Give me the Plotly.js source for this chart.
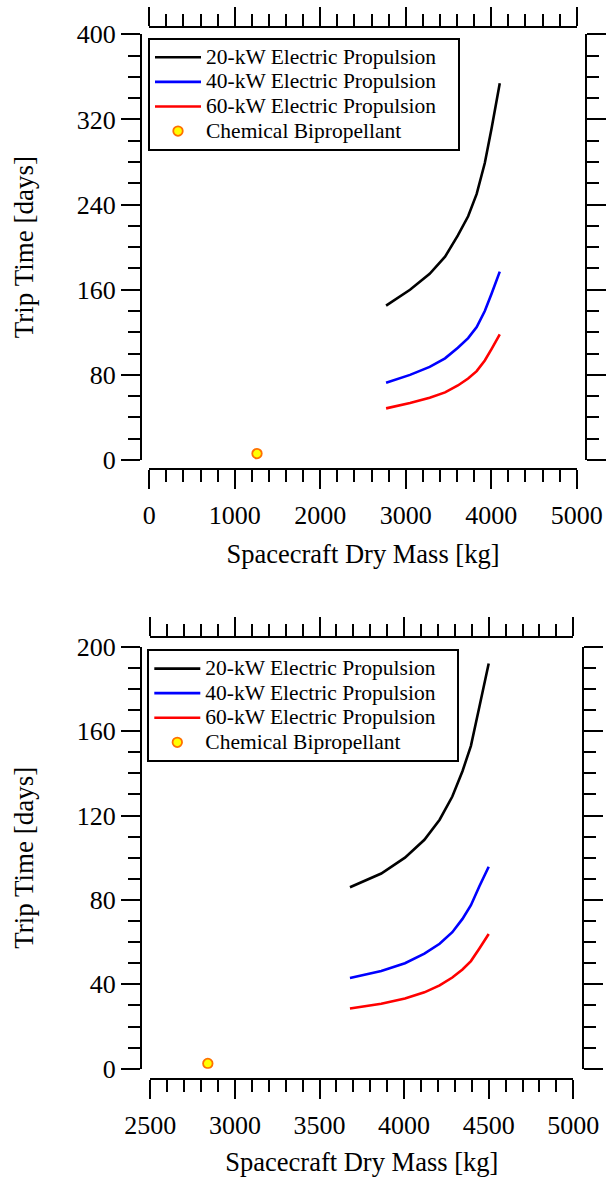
<!DOCTYPE html>
<html>
<head>
<meta charset="utf-8">
<script src="https://cdn.plot.ly/plotly-3.0.1.min.js"></script>
<style>
html,body{margin:0;padding:0;background:#fff;}
#chart{width:611px;height:1177px;}
</style>
</head>
<body>
<div id="chart"></div>
<script>
// ---------- data ----------
const seriesNames = ["20-kW Electric Propulsion", "40-kW Electric Propulsion", "60-kW Electric Propulsion", "Chemical Bipropellant"];

// top panel
const massTop   = [2770, 3050, 3280, 3460, 3610, 3730, 3830, 3925, 4005, 4100];
const ep20Top   = [145, 160, 175, 191, 211, 229, 250, 279, 312, 354];
const ep40Top   = [72.5, 80, 87.5, 95.5, 105.5, 114.5, 125, 140, 156.5, 177];
const ep60Top   = [48.5, 53.5, 58.5, 63.5, 70, 76.5, 83.5, 93.5, 104.5, 118];
const chemMassTop = [1260];
const chemTimeTop = [6];

// bottom panel
const massBot   = [3680, 3865, 4005, 4120, 4210, 4285, 4345, 4395, 4445, 4500];
const ep20Bot   = [86, 92.5, 100, 108.5, 118, 129, 141, 153, 171.5, 192];
const ep40Bot   = [43, 46.3, 50, 54.5, 59.2, 64.7, 71, 77.5, 86.5, 95.7];
const ep60Bot   = [28.5, 30.8, 33.3, 36.2, 39.5, 43.2, 47, 51, 57, 63.8];
const chemMassBot = [2840];
const chemTimeBot = [2.5];

const xTitle = "Spacecraft Dry Mass [kg]";
const yTitle = "Trip Time [days]";

// ---------- styling ----------
const W = 611, H = 1177;
const FONT = "Liberation Serif";
const colors = ["#000000", "#0000ff", "#ff0000"];
const fx = px => px / W;
const fy = py => 1 - py / H;
// legend text drawn at 21.5px while the legend row pitch is set by the smaller legend font
const legName = (s, pad) => '<span style="font-size:21.5px">' + s + (pad ? '&nbsp;&nbsp;&nbsp;' : '') + '</span>';

function lineTrace(x, y, i, xa, ya, leg) {
  return {type: "scatter", mode: "lines", x: x, y: y, name: legName(seriesNames[i], i === 0),
          line: {color: colors[i], width: 2.6}, xaxis: xa, yaxis: ya, legend: leg};
}
function chemTrace(x, y, xa, ya, leg) {
  return {type: "scatter", mode: "markers", x: x, y: y, name: legName(seriesNames[3], false),
          marker: {color: "#ffff00", size: 9.5, line: {color: "#ff7000", width: 1.8}},
          xaxis: xa, yaxis: ya, legend: leg};
}
function dummy(xa, ya) {
  return {type: "scatter", mode: "markers", x: [], y: [], xaxis: xa, yaxis: ya,
          showlegend: false, hoverinfo: "skip"};
}

const data = [
  lineTrace(massTop, ep20Top, 0, "x", "y", "legend"),
  lineTrace(massTop, ep40Top, 1, "x", "y", "legend"),
  lineTrace(massTop, ep60Top, 2, "x", "y", "legend"),
  chemTrace(chemMassTop, chemTimeTop, "x", "y", "legend"),
  dummy("x2", "y2"),
  lineTrace(massBot, ep20Bot, 0, "x3", "y3", "legend2"),
  lineTrace(massBot, ep40Bot, 1, "x3", "y3", "legend2"),
  lineTrace(massBot, ep60Bot, 2, "x3", "y3", "legend2"),
  chemTrace(chemMassBot, chemTimeBot, "x3", "y3", "legend2"),
  dummy("x4", "y4")
];

function axisBase(range, dtick, minorDtick, withLabels) {
  return {
    range: range, autorange: false, fixedrange: true,
    tickmode: "linear", tick0: range[0], dtick: dtick,
    ticks: "outside", ticklen: 19, tickwidth: 2, tickcolor: "#000",
    minor: {dtick: minorDtick, tick0: range[0], ticks: "outside", ticklen: 12, tickwidth: 2, tickcolor: "#000", showgrid: false},
    showline: true, linewidth: 2, linecolor: "#000",
    showgrid: false, zeroline: false,
    showticklabels: withLabels,
    tickfont: {family: FONT, size: 26, color: "#000"}
  };
}

// pixel geometry
const topX = [149.3, 576.7], topY = [34.3, 460];
const botX = [150.3, 573.3], botY = [646.7, 1068.7];
const xTitleFont = {family: FONT, size: 26.5, color: "#000"};
const yTitleFont = {family: FONT, size: 27, color: "#000"};

const legendBase = {
  xanchor: "left", yanchor: "top",
  bgcolor: "#fff", bordercolor: "#000", borderwidth: 2,
  font: {family: FONT, size: 16.6, color: "#000"},
  itemwidth: 46, tracegroupgap: 0
};

const layout = {
  width: W, height: H,
  margin: {l: 0, r: 0, t: 0, b: 0},
  paper_bgcolor: "#fff", plot_bgcolor: "#fff",
  showlegend: true,
  font: {family: FONT, color: "#000"},

  xaxis: Object.assign(axisBase([0, 5000], 1000, 200, true), {
    domain: [fx(topX[0]), fx(topX[1])], anchor: "free", position: fy(469),
    ticklabelstandoff: 4,
    title: {text: xTitle, font: xTitleFont, standoff: 14}
  }),
  yaxis: Object.assign(axisBase([0, 400], 80, 20, true), {
    domain: [fy(topY[1]), fy(topY[0])], anchor: "free", position: fx(141),
    title: {text: yTitle, font: yTitleFont, standoff: 34}
  }),
  xaxis2: Object.assign(axisBase([0, 5000], 1000, 200, false), {
    overlaying: "x", side: "top", anchor: "free", position: fy(27)
  }),
  yaxis2: Object.assign(axisBase([0, 400], 80, 20, false), {
    overlaying: "y", side: "right", anchor: "free", position: fx(586)
  }),

  xaxis3: Object.assign(axisBase([2500, 5000], 500, 100, true), {
    domain: [fx(botX[0]), fx(botX[1])], anchor: "free", position: fy(1079),
    ticklabelstandoff: 4,
    title: {text: xTitle, font: xTitleFont, standoff: 12}
  }),
  yaxis3: Object.assign(axisBase([0, 200], 40, 10, true), {
    domain: [fy(botY[1]), fy(botY[0])], anchor: "free", position: fx(141),
    title: {text: yTitle, font: yTitleFont, standoff: 34}
  }),
  xaxis4: Object.assign(axisBase([2500, 5000], 500, 100, false), {
    overlaying: "x3", side: "top", anchor: "free", position: fy(637.3)
  }),
  yaxis4: Object.assign(axisBase([0, 200], 40, 10, false), {
    overlaying: "y3", side: "right", anchor: "free", position: fx(582.7)
  }),

  legend: Object.assign({}, legendBase, {x: fx(148), y: fy(38)}),
  legend2: Object.assign({}, legendBase, {x: fx(147.3), y: fy(649.3)})
};

Plotly.newPlot("chart", data, layout, {displayModeBar: false, staticPlot: true});
</script>
</body>
</html>
